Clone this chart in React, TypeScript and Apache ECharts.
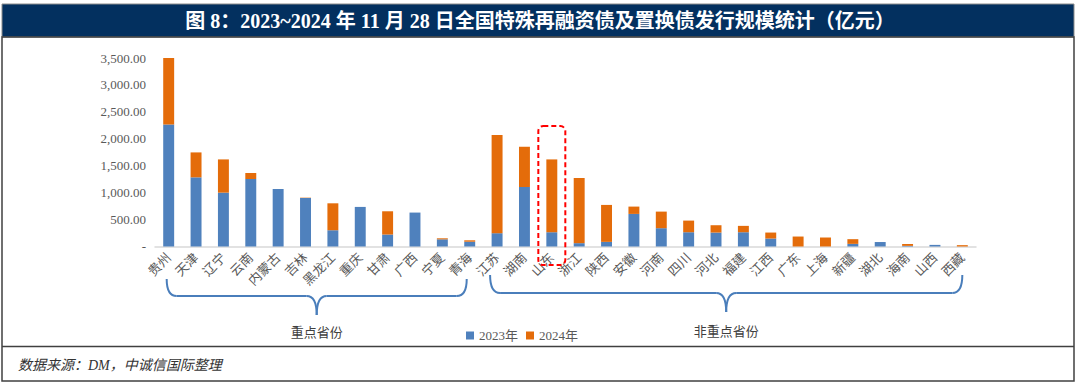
import React, { useEffect, useRef } from "react";
import * as echarts from "echarts";

const categories = ["贵州", "天津", "辽宁", "云南", "内蒙古", "吉林", "黑龙江", "重庆", "甘肃", "广西", "宁夏", "青海", "江苏", "湖南", "山东", "浙江", "陕西", "安徽", "河南", "四川", "河北", "福建", "江西", "广东", "上海", "新疆", "湖北", "海南", "山西", "西藏"];
const values2023 = [2265, 1284, 1000, 1253, 1068, 901, 302, 735, 222, 630, 133, 89, 247, 1105, 265, 62, 86, 605, 340, 265, 259, 265, 148, 0, 0, 49, 83, 12, 30, 0];
const values2024 = [1235, 463, 617, 111, 0, 6, 500, 0, 432, 0, 19, 26, 1821, 747, 1352, 1210, 686, 136, 308, 216, 136, 118, 111, 185, 167, 87, 0, 34, 0, 25];
const yTicks = { min: 0, max: 3500, interval: 500 };
const seriesNames = ["2023年", "2024年"];
const groupLabels = ["重点省份", "非重点省份"];
const titleText = "图 8：2023~2024 年 11 月 28 日全国特殊再融资债及置换债发行规模统计（亿元）";
const sourceText = "数据来源：DM，中诚信国际整理";

const SERIF = "'Times New Roman', 'Liberation Serif', 'Noto Sans CJK SC', serif";
const BLUE = "#4F81BD";
const ORANGE = "#E46C0A";
const BRACE = "#4A7EBB";

function brace(x1: number, x2: number, y0: number, y1: number, y2: number, r: number) {
  const xm = (x1 + x2) / 2;
  const style = { stroke: BRACE, lineWidth: 2, fill: "none" };
  return [
    { type: "bezierCurve", shape: { x1: x1, y1: y0, x2: x1 + r, y2: y1, cpx1: x1, cpy1: y1 }, style },
    { type: "line", shape: { x1: x1 + r, y1: y1, x2: xm - r, y2: y1 }, style },
    { type: "bezierCurve", shape: { x1: xm - r, y1: y1, x2: xm, y2: y2, cpx1: xm, cpy1: y1 }, style },
    { type: "bezierCurve", shape: { x1: xm, y1: y2, x2: xm + r, y2: y1, cpx1: xm, cpy1: y1 }, style },
    { type: "line", shape: { x1: xm + r, y1: y1, x2: x2 - r, y2: y1 }, style },
    { type: "bezierCurve", shape: { x1: x2 - r, y1: y1, x2: x2, y2: y0, cpx1: x2, cpy1: y1 }, style },
  ];
}

export default function App() {
  const ref = useRef<HTMLDivElement>(null);
  useEffect(() => {
    if (!ref.current) return;
    const chart = echarts.init(ref.current, null, { renderer: "svg" });
    chart.setOption({
      animation: false,
      backgroundColor: "#ffffff",
      grid: { left: 155, right: 104, top: 58, bottom: 137.5, containLabel: false },
      legend: {
        left: 461,
        top: 324,
        itemWidth: 8,
        itemHeight: 8,
        itemGap: 8,
        icon: "rect",
        textStyle: { fontFamily: SERIF, fontSize: 13, color: "#595959" },
        data: seriesNames,
      },
      xAxis: {
        type: "category",
        data: categories,
        axisLine: { lineStyle: { color: "#D9D9D9", width: 1.5 } },
        axisTick: { show: false },
        axisLabel: { rotate: 45, interval: 0, margin: 9, fontFamily: SERIF, fontSize: 13, color: "#595959" },
      },
      yAxis: {
        type: "value",
        min: yTicks.min,
        max: yTicks.max,
        interval: yTicks.interval,
        axisLine: { show: false },
        axisTick: { show: false },
        splitLine: { show: false },
        axisLabel: {
          margin: 9,
          fontFamily: SERIF,
          fontSize: 13,
          color: "#595959",
          formatter: (v: number) =>
            v === 0 ? "-" : v.toLocaleString("en-US", { minimumFractionDigits: 2, maximumFractionDigits: 2 }),
        },
      },
      series: [
        { name: seriesNames[0], type: "bar", stack: "a", barWidth: "40%", data: values2023, itemStyle: { color: BLUE } },
        { name: seriesNames[1], type: "bar", stack: "a", barWidth: "40%", data: values2024, itemStyle: { color: ORANGE } },
      ],
    });

    const cx = (i: number) => chart.convertToPixel({ xAxisIndex: 0 }, i) as number;
    const leftStart = cx(0) - 2;
    const leftEnd = cx(11) - 3;
    const rightStart = cx(12) - 7;
    const rightEnd = cx(categories.length - 1);
    const hlIdx = categories.indexOf("山东");
    const hlX = cx(hlIdx);

    chart.setOption({
      graphic: [
        { type: "rect", shape: { x: 2, y: 4, width: 1072, height: 33 }, style: { fill: "#03305F", stroke: "#8C8C8C", lineWidth: 1 } },
        {
          type: "text",
          x: 540,
          y: 21,
          style: { text: titleText, fill: "#ffffff", font: "bold 20px " + SERIF, align: "center", verticalAlign: "middle" },
        },
        { type: "rect", shape: { x: 2, y: 37, width: 1072, height: 344 }, style: { fill: "none", stroke: "#404040", lineWidth: 1.5 } },
        { type: "line", shape: { x1: 2, y1: 346.5, x2: 1074, y2: 346.5 }, style: { stroke: "#404040", lineWidth: 1.5 } },
        {
          type: "text",
          x: 18,
          y: 365,
          style: { text: sourceText, fill: "#333333", font: "italic 14px " + SERIF, align: "left", verticalAlign: "middle" },
        },
        {
          type: "rect",
          shape: { x: hlX - 13.5, y: 126, width: 27, height: 139, r: 5 },
          style: { fill: "none", stroke: "#FF0000", lineWidth: 2, lineDash: [5, 3] },
          z: 10,
        },
        ...brace(leftStart, leftEnd, 279, 296, 315, 10),
        ...brace(rightStart, rightEnd, 275, 293, 312, 10),
        {
          type: "text",
          x: (leftStart + leftEnd) / 2,
          y: 332,
          style: { text: groupLabels[0], fill: "#404040", font: "13px " + SERIF, align: "center", verticalAlign: "middle" },
        },
        {
          type: "text",
          x: (rightStart + rightEnd) / 2,
          y: 331,
          style: { text: groupLabels[1], fill: "#404040", font: "13px " + SERIF, align: "center", verticalAlign: "middle" },
        },
      ],
    });
    return () => chart.dispose();
  }, []);
  return <div ref={ref} style={{ position: "absolute", left: 0, top: 0, width: 1080, height: 384 }} />;
}
